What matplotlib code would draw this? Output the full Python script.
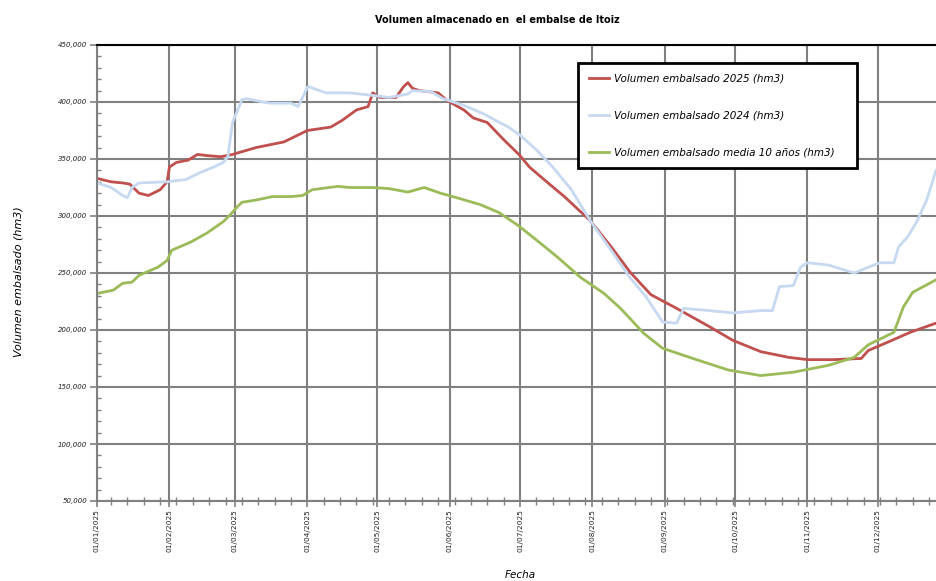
import numpy as np
import pandas as pd
import matplotlib
matplotlib.use('Agg')
import matplotlib.pyplot as plt
import matplotlib.dates as mdates
from matplotlib.ticker import MultipleLocator, FuncFormatter

# datos (dias desde 01/01/2025, volumen en miles)
start = pd.Timestamp('2025-01-01')

dias_2025 = [0, 6, 11, 14, 18, 22, 27, 30, 31, 34, 39, 43, 47, 53, 58, 68, 80, 86, 90, 100,
             105, 111, 116, 118, 121, 128, 131, 133, 135, 138, 146, 150, 157, 161, 167, 174,
             181, 185, 193, 200, 211, 220, 228, 237, 248, 262, 272, 284, 296, 304, 315, 327,
             330, 338, 348, 359]
vol_2025 = [333, 330, 329, 328, 320, 318, 323, 330, 343, 347, 349, 354, 353, 352, 354, 360,
            365, 371, 375, 378, 384, 393, 396, 408, 404, 404, 413, 417, 412, 410, 408, 401,
            393, 386, 382, 367, 353, 343, 329, 317, 296, 273, 251, 231, 219, 203, 191, 181,
            176, 174, 174, 175, 182, 189, 198, 206]

dias_2024 = [0, 6, 11, 13, 15, 18, 30, 38, 44, 50, 54, 56, 58, 62, 64, 71, 74, 83, 86, 88,
             90, 91, 98, 108, 117, 125, 133, 135, 143, 148, 157, 165, 176, 181, 188, 195,
             203, 211, 221, 228, 235, 242, 248, 251, 262, 272, 284, 289, 292, 298, 301, 304,
             313, 324, 330, 335, 341, 343, 347, 351, 355, 359]
vol_2024 = [329, 325, 318, 316, 325, 329, 330, 332, 338, 343, 347, 352, 382, 402, 403, 400,
            399, 399, 396, 404, 413, 413, 408, 408, 406, 404, 407, 410, 409, 403, 397, 390,
            378, 371, 358, 343, 323, 296, 267, 246, 229, 207, 206, 219, 217, 215, 217, 217,
            238, 239, 255, 259, 257, 250, 255, 259, 259, 273, 282, 296, 314, 340]

dias_media = [0, 7, 11, 15, 18, 26, 30, 32, 40, 47, 54, 57, 60, 62, 68, 75, 83, 88, 92, 103,
              108, 118, 125, 133, 140, 147, 154, 164, 172, 180, 188, 197, 207, 217, 224, 234,
              242, 255, 270, 284, 298, 313, 324, 330, 337, 341, 345, 349, 359]
vol_media = [232, 235, 241, 242, 248, 255, 261, 270, 277, 285, 295, 301, 308, 312, 314, 317,
             317, 318, 323, 326, 325, 325, 324, 321, 325, 320, 316, 310, 303, 292, 279, 264,
             246, 232, 219, 197, 184, 175, 165, 160, 163, 169, 176, 187, 194, 198, 220, 233,
             244]

etiquetas = ['Volumen embalsado 2025 (hm3)', 'Volumen embalsado 2024 (hm3)',
             'Volumen embalsado media 10 años (hm3)']
colores = ['#C0504D', '#C6D9F1', '#9BBB59']


def fechas(d):
    return start + pd.to_timedelta(d, unit='D')


fig = plt.figure(figsize=(9.36, 5.81), dpi=100)
ax = fig.add_axes([97 / 936, 1 - 501 / 581, 1 - 97 / 936, (501 - 45) / 581])

series = [(dias_2025, vol_2025), (dias_2024, vol_2024), (dias_media, vol_media)]
for (d, v), lab, c in zip(series, etiquetas, colores):
    ax.plot(fechas(d), np.array(v) * 1000, color=c, lw=2.0, label=lab)

ax.set_ylim(50000, 450000)
ax.set_xlim(start, start + pd.Timedelta(days=359))

ax.yaxis.set_major_locator(MultipleLocator(50000))
ax.yaxis.set_minor_locator(MultipleLocator(10000))
ax.yaxis.set_major_formatter(FuncFormatter(lambda v, p: '{:,.0f}'.format(v)))

ax.xaxis.set_major_locator(mdates.MonthLocator())
ax.xaxis.set_minor_locator(mdates.WeekdayLocator(byweekday=mdates.TU))
ax.xaxis.set_major_formatter(mdates.DateFormatter('%d/%m/%Y'))

ax.grid(True, which='major', color='#808080', lw=1.5)
ax.set_axisbelow(True)

for s in ['left', 'bottom']:
    ax.spines[s].set_color('#808080')
    ax.spines[s].set_linewidth(1.5)
ax.spines['right'].set_visible(False)
ax.spines['top'].set_color('black')
ax.spines['top'].set_linewidth(1.5)

ax.tick_params(axis='y', which='major', direction='out', length=5, width=1.2,
               color='#808080', labelsize=5, pad=2, labelcolor='#202020')
ax.tick_params(axis='y', which='minor', direction='in', length=3, width=1,
               color='#808080')
ax.tick_params(axis='x', which='major', direction='out', length=4, width=1.2,
               color='#808080', labelsize=5.3, pad=2, labelrotation=90,
               labelcolor='#202020')
ax.tick_params(axis='x', which='minor', direction='inout', length=6, width=1,
               color='#808080')
for t in ax.get_yticklabels():
    t.set_fontstyle('italic')

ax.set_ylabel('Volumen embalsado (hm3)', fontsize=8, fontstyle='italic')
ax.yaxis.set_label_coords(-0.088, 0.48)
fig.text(520 / 936, 1 - 575 / 581, 'Fecha', fontsize=7.5, fontstyle='italic',
         ha='center', va='center')

fig.text(497 / 936, 1 - 20 / 581, 'Volumen almacenado en  el embalse de Itoiz',
         fontsize=7, fontweight='bold', ha='center', va='center')

leg = ax.legend(loc='upper left', mode='expand',
                bbox_to_anchor=(573 / 936, 1 - 173 / 581, (862 - 573) / 936, (173 - 58) / 581),
                bbox_transform=fig.transFigure, fontsize=7.5, labelspacing=2.6,
                handlelength=2.0, handletextpad=0.4, borderpad=1.0, fancybox=False,
                framealpha=1, edgecolor='black')
leg.get_frame().set_linewidth(2)
for t in leg.get_texts():
    t.set_fontstyle('italic')

fig.savefig('out.png', dpi=100)
